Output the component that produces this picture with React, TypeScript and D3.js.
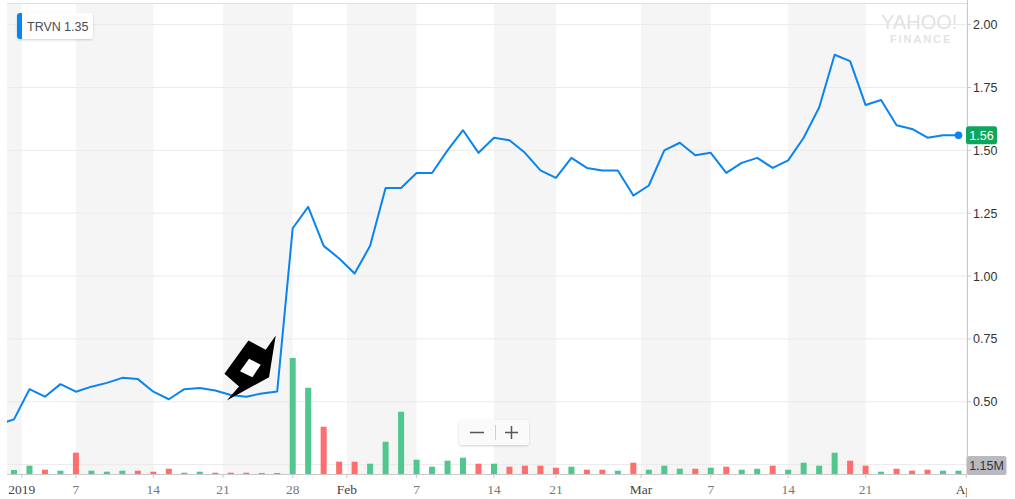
import { useEffect, useMemo } from 'react';
import * as d3 from 'd3';

// trading days shown on the chart (Dec 28 2018 .. Mar 29 2019)
const tradingDays = [
  '2018-12-28', '2018-12-31',
  '2019-01-02', '2019-01-03', '2019-01-04', '2019-01-07', '2019-01-08', '2019-01-09', '2019-01-10', '2019-01-11',
  '2019-01-14', '2019-01-15', '2019-01-16', '2019-01-17', '2019-01-18', '2019-01-22', '2019-01-23', '2019-01-24',
  '2019-01-25', '2019-01-28', '2019-01-29', '2019-01-30', '2019-01-31',
  '2019-02-01', '2019-02-04', '2019-02-05', '2019-02-06', '2019-02-07', '2019-02-08', '2019-02-11', '2019-02-12',
  '2019-02-13', '2019-02-14', '2019-02-15', '2019-02-19', '2019-02-20', '2019-02-21', '2019-02-22', '2019-02-25',
  '2019-02-26', '2019-02-27', '2019-02-28',
  '2019-03-01', '2019-03-04', '2019-03-05', '2019-03-06', '2019-03-07', '2019-03-08', '2019-03-11', '2019-03-12',
  '2019-03-13', '2019-03-14', '2019-03-15', '2019-03-18', '2019-03-19', '2019-03-20', '2019-03-21', '2019-03-22',
  '2019-03-25', '2019-03-26', '2019-03-27', '2019-03-28', '2019-03-29',
];

const closes = [
  0.41, 0.43,
  0.55, 0.52, 0.57, 0.54, 0.56, 0.575, 0.595, 0.59,
  0.54, 0.51, 0.55, 0.555, 0.545, 0.527, 0.52, 0.533,
  0.541, 1.19, 1.275, 1.12, 1.07,
  1.01, 1.12, 1.35, 1.35, 1.41, 1.41, 1.5, 1.58,
  1.49, 1.55, 1.54, 1.49, 1.42, 1.39, 1.47, 1.43,
  1.42, 1.42, 1.32,
  1.36, 1.5, 1.53, 1.48, 1.49, 1.41, 1.45, 1.47,
  1.43, 1.46, 1.55, 1.67, 1.88, 1.855, 1.68, 1.7,
  1.6, 1.585, 1.55, 1.56, 1.56,
];

// volume in millions
const volumes = [
  1.2, 1.39,
  2.89, 1.5, 1.15, 7.41, 1.15, 0.8, 1.15, 1.15,
  0.8, 1.84, 0.45, 0.8, 0.45, 0.45, 0.45, 0.35,
  0.35, 40.35, 30.0, 16.45, 4.28,
  4.28, 3.58, 11.23, 21.67, 4.97, 2.54, 4.63, 5.67,
  3.58, 3.58, 2.54, 2.89, 2.89, 2.19, 2.54, 1.5,
  1.5, 1.15, 3.93,
  1.5, 2.89, 1.84, 1.84, 2.19, 2.54, 1.5, 1.84,
  2.89, 1.5, 3.93, 2.89, 7.41, 4.63, 2.89, 0.8,
  1.84, 1.15, 1.5, 1.15, 1.15,
];

// 1 = up day (green), 0 = down day (red)
const volumeUp = [
  1, 1,
  1, 0, 1, 0, 1, 1, 1, 0,
  0, 0, 1, 1, 0, 0, 0, 1,
  1, 1, 1, 0, 0,
  0, 1, 1, 1, 1, 1, 1, 1,
  0, 1, 0, 0, 0, 0, 1, 0,
  0, 1, 0,
  1, 1, 1, 0, 1, 0, 1, 1,
  0, 1, 1, 1, 1, 0, 0, 1,
  0, 0, 0, 1, 1,
];

const xTicks = [
  { date: '2019-01-01', label: '2019', month: true },
  { date: '2019-01-07', label: '7', month: false },
  { date: '2019-01-14', label: '14', month: false },
  { date: '2019-01-21', label: '21', month: false },
  { date: '2019-01-28', label: '28', month: false },
  { date: '2019-02-01', label: 'Feb', month: true },
  { date: '2019-02-07', label: '7', month: false },
  { date: '2019-02-14', label: '14', month: false },
  { date: '2019-02-21', label: '21', month: false },
  { date: '2019-03-01', label: 'Mar', month: true },
  { date: '2019-03-07', label: '7', month: false },
  { date: '2019-03-14', label: '14', month: false },
  { date: '2019-03-21', label: '21', month: false },
  { date: '2019-04-01', label: 'Apr', month: true },
];

const priceGrid = [0.25, 0.5, 0.75, 1.0, 1.25, 1.5, 1.75, 2.0];
const priceLabels = [0.5, 0.75, 1.0, 1.25, 1.5, 1.75, 2.0];

const symbol = 'TRVN';
const legendValue = '1.35';
const lastVolumeLabel = '1.15M';

const W = 1015;
const H = 499;
const plot = { left: 7, right: 967, top: 4, bottom: 474 };

const UP = '#4fc78e';
const DOWN = '#ff6e6e';
const LINE = '#0a84ef';

export default function App() {
  useEffect(() => {
    document.body.style.margin = '0';
  }, []);

  const x = d3.scaleLinear().domain([0, tradingDays.length - 1]).range([-1.5, 958.5]);
  const y = d3.scaleLinear().domain([0.25, 2.0]).range([464.6, 24.6]);
  const yVol = d3.scaleLinear().domain([0, 40]).range([plot.bottom, plot.bottom - 115]);

  const tickPos = useMemo(
    () =>
      xTicks.map((t) => {
        let idx = tradingDays.findIndex((d) => d >= t.date);
        if (idx < 0) idx = tradingDays.length;
        const exact = tradingDays[idx] === t.date;
        const pos = t.month || !exact ? idx - 0.5 : idx;
        return { ...t, pos };
      }),
    []
  );

  // alternating week bands between tick boundaries
  const bounds = [plot.left, ...tickPos.map((t) => x(t.pos)), plot.right];
  const bands = d3.pairs(bounds).filter((_, i) => i % 2 === 0);

  const linePath =
    d3
      .line<number>()
      .x((_, i) => x(i))
      .y((d) => y(d))(closes) ?? '';

  const lastIdx = closes.length - 1;
  const lastX = x(lastIdx);
  const lastY = y(closes[lastIdx]);

  // cursor glyph anchored to a chart position
  const cx = x(14.74);
  const cy = y(0.505);
  const outer = [
    [0, 0], [12.3, -14], [-2.3, -26.7], [21.7, -60], [39, -50.7], [49, -65], [42.3, -23.3],
  ];
  const inner = [
    [13.3, -29.3], [22.3, -41.7], [34, -35.7], [25.7, -23.3],
  ];
  const poly = (pts: number[][]) =>
    'M' + pts.map((p) => `${cx + p[0]},${cy + p[1]}`).join('L') + 'Z';

  return (
    <svg width={W} height={H} style={{ display: 'block' }} fontFamily="'Liberation Sans', Arial, sans-serif">
      <defs>
        <clipPath id="plotClip">
          <rect x={plot.left} y={0} width={plot.right - plot.left} height={plot.bottom} />
        </clipPath>
        <clipPath id="labelClip">
          <rect x={0} y={plot.bottom} width={plot.right} height={H - plot.bottom} />
        </clipPath>
        <filter id="shadow" x="-20%" y="-30%" width="140%" height="160%">
          <feDropShadow dx={0} dy={1} stdDeviation={1.2} floodColor="#000" floodOpacity={0.18} />
        </filter>
      </defs>

      <rect width={W} height={H} fill="#fff" />

      {bands.map(([a, b], i) => (
        <rect key={i} x={a} y={plot.top} width={b - a} height={plot.bottom - plot.top} fill="#f5f5f5" />
      ))}

      <line x1={plot.left} x2={plot.right} y1={3.5} y2={3.5} stroke="#dedede" />

      {priceGrid.map((v) => (
        <line key={v} x1={plot.left} x2={plot.right} y1={y(v)} y2={y(v)} stroke="#ebebeb" />
      ))}

      {/* watermark */}
      <text x={881} y={29} fontSize={20} fill="#e2e2e2">YAHOO!</text>
      <text x={890} y={43} fontSize={11} fontWeight="bold" fill="#e4e4e4" letterSpacing={1.9}>FINANCE</text>

      <g clipPath="url(#plotClip)">
        {volumes.map((v, i) => (
          <rect
            key={i}
            x={x(i) - 3}
            y={yVol(v)}
            width={6}
            height={plot.bottom - yVol(v)}
            fill={volumeUp[i] ? UP : DOWN}
          />
        ))}
        <path d={linePath} fill="none" stroke={LINE} strokeWidth={2} strokeLinejoin="round" />
      </g>
      <circle cx={lastX} cy={lastY} r={3.8} fill={LINE} />

      {/* axes */}
      <line x1={plot.right + 0.5} x2={plot.right + 0.5} y1={0} y2={plot.bottom} stroke="#c9c9c9" />
      <line x1={plot.left} x2={plot.right} y1={plot.bottom + 0.5} y2={plot.bottom + 0.5} stroke="#c9c9c9" />

      {priceLabels.map((v) => (
        <g key={v}>
          <line x1={plot.right} x2={plot.right + 4} y1={y(v)} y2={y(v)} stroke="#c9c9c9" />
          <text x={973} y={y(v)} dy="0.36em" fontSize={12.5} fill="#333">
            {v.toFixed(2)}
          </text>
        </g>
      ))}

      <g clipPath="url(#labelClip)">
        {tickPos.map((t) => (
          <g key={t.date}>
            <line x1={x(t.pos)} x2={x(t.pos)} y1={plot.bottom} y2={plot.bottom + 4} stroke="#c9c9c9" />
            <text
              x={x(t.pos)}
              y={494}
              textAnchor="middle"
              fontSize={13.5}
              fontFamily="'Liberation Serif', 'Times New Roman', serif"
              fill={t.month ? '#444' : '#777'}
            >
              {t.label}
            </text>
          </g>
        ))}
      </g>

      {/* last price tag */}
      <rect x={966} y={lastY - 9} width={31} height={18} rx={2.5} fill="#0ea65c" />
      <text x={981.5} y={lastY} dy="0.36em" textAnchor="middle" fontSize={12.5} fill="#fff">
        {closes[lastIdx].toFixed(2)}
      </text>

      {/* last volume tag */}
      <rect x={966.5} y={456} width={40} height={19} rx={2.5} fill="#b9bac0" />
      <text x={986.5} y={465.5} dy="0.36em" textAnchor="middle" fontSize={12.5} fill="#333">
        {lastVolumeLabel}
      </text>

      {/* legend */}
      <g filter="url(#shadow)">
        <rect x={17} y={13} width={76} height={26} rx={3} fill="#fff" />
      </g>
      <path d="M20,13 h2 v26 h-2 a3,3 0 0 1 -3,-3 v-20 a3,3 0 0 1 3,-3 z" fill={LINE} />
      <text x={27} y={30.5} fontSize={12.5} fill="#464e56">{symbol}</text>
      <text x={64} y={30.5} fontSize={12.5} fill="#464e56">{legendValue}</text>

      {/* zoom control */}
      <g filter="url(#shadow)">
        <rect x={459} y={420} width={70} height={25} rx={3} fill="#fafafa" />
      </g>
      <line x1={470} x2={484} y1={432.5} y2={432.5} stroke="#555" strokeWidth={1.5} />
      <line x1={495.5} x2={495.5} y1={425} y2={440} stroke="#cfcfcf" />
      <line x1={505} x2={518} y1={432.5} y2={432.5} stroke="#555" strokeWidth={1.5} />
      <line x1={511.5} x2={511.5} y1={426} y2={439} stroke="#555" strokeWidth={1.5} />

      {/* cursor */}
      <path d={poly(outer)} fill="#000" />
      <path d={poly(inner)} fill="#fff" />
    </svg>
  );
}
